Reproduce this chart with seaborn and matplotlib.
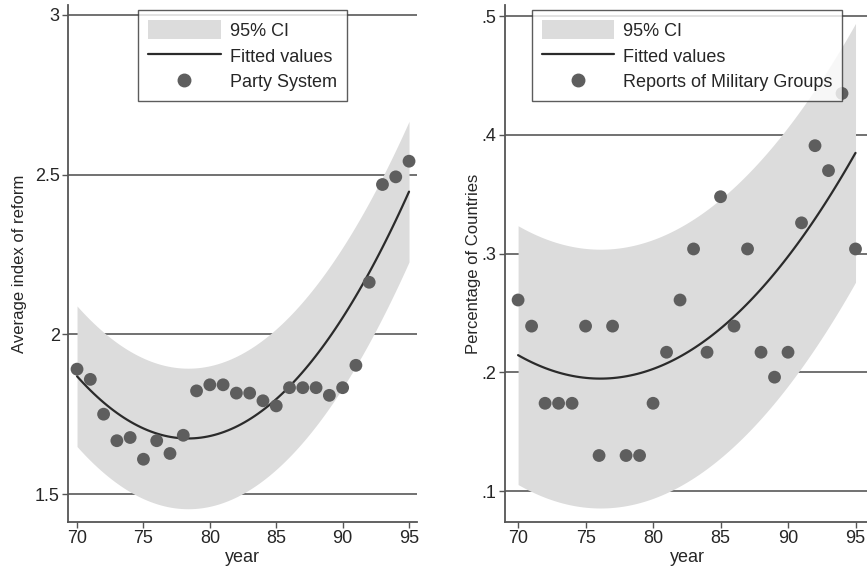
import numpy as np
import pandas as pd
import seaborn as sns
import matplotlib.pyplot as plt
from matplotlib.patches import Patch
from matplotlib.lines import Line2D

years = list(range(70, 96))
party_system = [1.891, 1.859, 1.750, 1.667, 1.677, 1.609, 1.667, 1.627, 1.684, 1.823,
                1.842, 1.842, 1.816, 1.816, 1.792, 1.776, 1.833, 1.833, 1.833, 1.809,
                1.833, 1.903, 2.163, 2.469, 2.493, 2.542]
military = [.261, .239, .174, .174, .174, .239, .130, .239, .130, .130,
            .174, .217, .261, .304, .217, .348, .239, .304, .217, .196,
            .217, .326, .391, .370, .435, .304]

# half-width of the 95% CI band
party_ci_half = 0.22
military_ci_half = 0.109

left_ticks = [1.5, 2, 2.5, 3]
left_ticklabels = ["1.5", "2", "2.5", "3"]
right_ticks = [.1, .2, .3, .4, .5]
right_ticklabels = [".1", ".2", ".3", ".4", ".5"]
x_ticks = [70, 75, 80, 85, 90, 95]


def qfit(x, y, half, n=100):
    # quadratic fitted values over the year range, with the CI band around them
    coef = np.polyfit(x, y, 2)
    xs = np.linspace(min(x), max(x), n)
    yhat = np.polyval(coef, xs)
    return pd.DataFrame({"year": xs, "fit": yhat, "lo": yhat - half, "hi": yhat + half})


sns.set_style("white")
plt.rcParams['font.family'] = ['Liberation Sans', 'DejaVu Sans']

band_col = "#dcdcdc"
line_col = "#2b2b2b"
dot_col = "#5e5e5e"
grid_col = "#4a4a4a"

fig = plt.figure(figsize=(8.67, 5.68), dpi=100)
ax1 = fig.add_axes([68 / 867, 46 / 568, 349 / 867, 517 / 568])
ax2 = fig.add_axes([505 / 867, 46 / 568, 364 / 867, 517 / 568])

panels = [
    (ax1, party_system, party_ci_half, "Party System", "Average index of reform", 5.5,
     left_ticks, left_ticklabels, (69.32, 95.6), (1.4125, 3.031)),
    (ax2, military, military_ci_half, "Reports of Military Groups", "Percentage of Countries", 0.5,
     right_ticks, right_ticklabels, (69.03, 96.0), (0.074, 0.5095)),
]

for ax, vals, half, name, ylab, lpad, yt, ytl, xl, yl in panels:
    df = pd.DataFrame({"year": years, "value": vals})
    fit = qfit(years, vals, half)
    for t in yt:
        ax.axhline(t, color=grid_col, lw=1.1, zorder=0)
    ax.fill_between(fit["year"], fit["lo"], fit["hi"], color=band_col, lw=0, zorder=1)
    sns.lineplot(data=fit, x="year", y="fit", ax=ax, color=line_col, lw=1.6, zorder=2)
    sns.scatterplot(data=df, x="year", y="value", ax=ax, color=dot_col, s=85,
                    edgecolor="none", zorder=3)
    ax.set_xlim(*xl)
    ax.set_ylim(*yl)
    ax.set_xticks(x_ticks)
    ax.set_yticks(yt)
    ax.set_yticklabels(ytl)
    ax.set_xlabel("year", fontsize=13, labelpad=1)
    ax.set_ylabel(ylab, fontsize=12, labelpad=lpad)
    ax.tick_params(axis="both", direction="out", length=4, width=1.0, color="#555555",
                   labelsize=13, pad=2, left=True, bottom=True)
    for side in ["top", "right"]:
        ax.spines[side].set_visible(False)
    for side in ["left", "bottom"]:
        ax.spines[side].set_color("#555555")
        ax.spines[side].set_linewidth(1.3)
    handles = [Patch(facecolor=band_col, edgecolor="none"),
               Line2D([], [], color=line_col, lw=1.6),
               Line2D([], [], marker="o", ls="none", color=dot_col, markersize=9)]
    leg = ax.legend(handles, ["95% CI", "Fitted values", name], loc="upper center",
                    bbox_to_anchor=(0.5, 1.0), borderaxespad=0.3, frameon=True,
                    fancybox=False, edgecolor="#333333", fontsize=13, handlelength=4.0,
                    handleheight=1.2, labelspacing=0.36, borderpad=0.55,
                    handletextpad=0.5)
    leg.get_frame().set_linewidth(1.0)
    leg.set_zorder(5)

fig.savefig("out.png", dpi=100)
